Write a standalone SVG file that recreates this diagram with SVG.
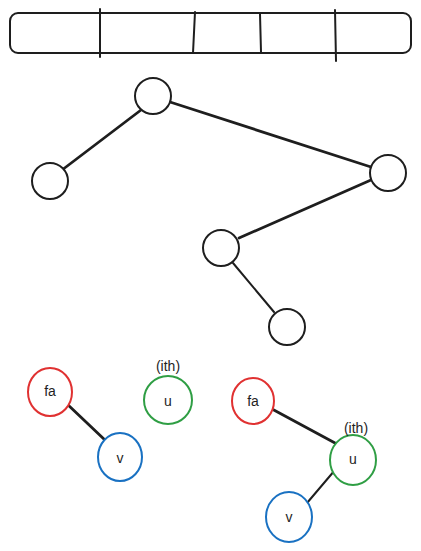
<svg xmlns="http://www.w3.org/2000/svg" width="421" height="551" viewBox="0 0 421 551">
<style>
.s{fill:none;stroke:#1e1e1e;stroke-width:2;stroke-linecap:round}
.t{fill:none;stroke:#1e1e1e;stroke-width:2.8;stroke-linecap:round}
.n{fill:#fff;stroke:#1e1e1e;stroke-width:2}
.r{fill:#fff;stroke:#e03131;stroke-width:2}
.g{fill:#fff;stroke:#2f9e44;stroke-width:2}
.b{fill:#fff;stroke:#1971c2;stroke-width:2}
text{font-family:"Liberation Sans",Arial,sans-serif;font-size:14px;fill:#1e1e1e;text-anchor:middle;dominant-baseline:central}
</style>
<rect width="421" height="551" fill="#fff"/>
<g id="array">
<rect x="10" y="13" width="401" height="40" rx="8" class="s"/>
<line x1="100" y1="9" x2="100" y2="57" class="s"/>
<line x1="195" y1="12" x2="193" y2="53" class="s"/>
<line x1="260" y1="14" x2="261" y2="52" class="s"/>
<line x1="335" y1="10" x2="336" y2="61" class="s"/>
</g>
<g id="connectors">
<line x1="141" y1="110" x2="62" y2="170" class="t"/>
<line x1="170" y1="102" x2="371" y2="167" class="t"/>
<line x1="371" y1="180" x2="239" y2="238" class="t"/>
<line x1="233" y1="263" x2="274" y2="312" class="s"/>
<line x1="66" y1="403" x2="106" y2="441" class="t"/>
<line x1="272" y1="409" x2="335" y2="443" class="t"/>
<line x1="335" y1="470" x2="307" y2="503" class="s"/>
</g>
<g id="t1"><circle cx="153" cy="96" r="18" class="n"/></g>
<g id="t2"><circle cx="50" cy="181" r="18" class="n"/></g>
<g id="t3"><circle cx="388" cy="173" r="18" class="n"/></g>
<g id="t4"><circle cx="221" cy="248" r="18" class="n"/></g>
<g id="t5"><circle cx="287" cy="327" r="18" class="n"/></g>
<g id="fa1"><ellipse cx="50" cy="392" rx="22" ry="24" class="r"/><text x="50" y="391">fa</text></g>
<g id="v1"><ellipse cx="120" cy="457" rx="22" ry="24" class="b"/><text x="120" y="458">v</text></g>
<g id="u1"><ellipse cx="168" cy="400" rx="24" ry="24" class="g"/><text x="168" y="401">u</text><text x="168" y="366">(ith)</text></g>
<g id="fa2"><ellipse cx="253" cy="401" rx="21" ry="23" class="r"/><text x="253" y="401">fa</text></g>
<g id="u2"><ellipse cx="353" cy="460" rx="23" ry="25" class="g"/><text x="353" y="459">u</text><text x="356" y="428">(ith)</text></g>
<g id="v2"><ellipse cx="289" cy="517" rx="23" ry="25" class="b"/><text x="289" y="517">v</text></g>
</svg>
